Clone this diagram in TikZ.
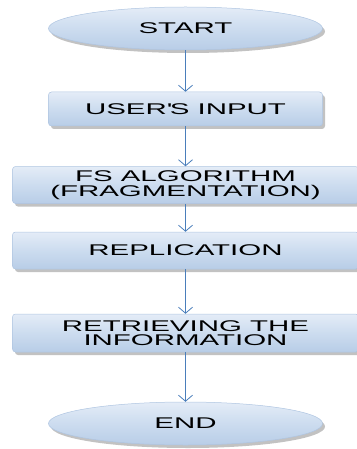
\documentclass[tikz,border=0pt]{standalone}
\usepackage{fontspec}
\newfontfamily\flowfont[FakeStretch=1.9]{Liberation Sans}
\usetikzlibrary{shapes.geometric,shadows,arrows.meta}

\definecolor{edgeblue}{HTML}{4A7EBB}
\definecolor{filltop}{HTML}{E4ECF7}
\definecolor{fillmid}{HTML}{CCDCEF}
\definecolor{fillbot}{HTML}{B8CDE7}
\definecolor{rim}{HTML}{AFC5E1}

\begin{document}
\begin{tikzpicture}[x=1pt,y=-1pt,
  base/.style={draw=rim, line width=0.5pt,
    top color=filltop, bottom color=fillbot, middle color=fillmid,
    drop shadow={shadow xshift=2.5pt, shadow yshift=-3pt, opacity=0.4, fill=black!60},
    font=\flowfont\fontsize{15.5}{14.5}\selectfont, align=center,
    inner sep=0pt, text=black},
  terminal/.style={base, ellipse, minimum width=274pt, minimum height=43pt},
  stepbox/.style={base, rectangle, rounded corners=3pt},
  flow/.style={draw=edgeblue, line width=0.8pt,
    -{Straight Barb[length=6pt,width=14pt]}}
]
\useasboundingbox (0,0) rectangle (356,449);

\node[terminal] (start) at (185.5,28.5) {START};
\node[stepbox, minimum width=274pt, minimum height=34pt] (input) at (185.5,109)
  {USER\textquotesingle S INPUT};
\node[stepbox, minimum width=346pt, minimum height=37pt] (frag) at (185.5,185)
  {FS ALGORITHM\\(FRAGMENTATION)};
\node[stepbox, minimum width=346pt, minimum height=37pt] (repl) at (185.5,250.5)
  {REPLICATION};
\node[stepbox, minimum width=346pt, minimum height=38pt] (retr) at (185.5,333)
  {RETRIEVING THE\\INFORMATION};
\node[terminal] (end) at (185.5,423.5) {END};

\draw[flow] (start) -- (input);
\draw[flow] (input) -- (frag);
\draw[flow] (frag) -- (repl);
\draw[flow] (repl) -- (retr);
\draw[flow] (retr) -- (end);
\end{tikzpicture}
\end{document}
